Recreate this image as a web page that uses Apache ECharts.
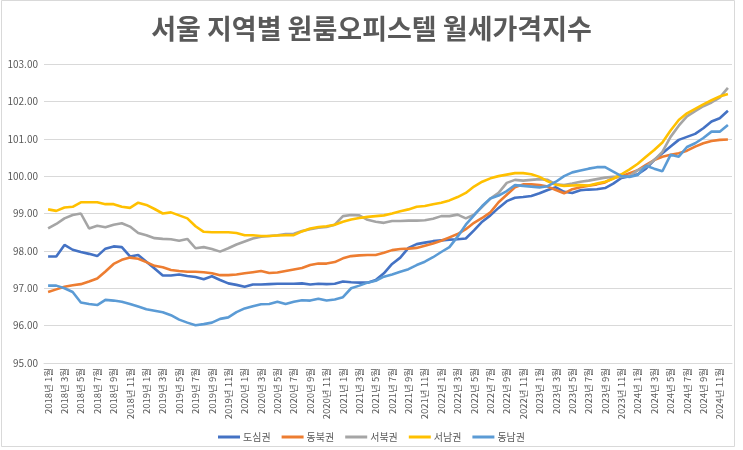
<!DOCTYPE html>
<html>
<head>
<meta charset="utf-8">
<script src="https://cdn.jsdelivr.net/npm/echarts@6/dist/echarts.min.js"></script>
<style>
html,body{margin:0;padding:0;background:#fff;}
#c{width:743px;height:450px;}
</style>
</head>
<body>
<div id="c"></div>
<script>
var titleText = '서울 지역별 원룸오피스텔 월세가격지수';
var years = [2018, 2019, 2020, 2021, 2022, 2023, 2024];
var months = [1,2,3,4,5,6,7,8,9,10,11,12];
var categories = [];
years.forEach(function(y){ months.forEach(function(m){ categories.push(y + '년 ' + m + '월'); }); });

var seriesNames = ['도심권', '동북권', '서북권', '서남권', '동남권'];

var dosim = [97.85,97.85,98.16,98.03,97.97,97.92,97.86,98.06,98.12,98.10,
97.85,97.89,97.71,97.53,97.34,97.34,97.37,97.33,97.30,97.24,
97.32,97.22,97.13,97.09,97.04,97.10,97.10,97.11,97.12,97.12,
97.12,97.13,97.10,97.12,97.11,97.12,97.18,97.16,97.15,97.15,
97.22,97.40,97.65,97.82,98.08,98.18,98.22,98.26,98.28,98.30,
98.31,98.33,98.55,98.78,98.95,99.15,99.33,99.42,99.44,99.47,
99.54,99.63,99.70,99.58,99.55,99.62,99.64,99.65,99.68,99.80,
99.95,100.00,100.05,100.20,100.43,100.61,100.79,100.97,101.05,101.13,
101.28,101.46,101.55,101.75];

var dongbuk = [96.90,96.97,97.04,97.08,97.11,97.18,97.26,97.45,97.65,97.76,
97.82,97.79,97.70,97.60,97.56,97.49,97.46,97.44,97.44,97.43,
97.40,97.35,97.35,97.37,97.40,97.43,97.46,97.41,97.42,97.46,
97.50,97.54,97.62,97.66,97.66,97.70,97.80,97.86,97.88,97.89,
97.89,97.95,98.02,98.05,98.06,98.08,98.14,98.20,98.27,98.36,
98.45,98.58,98.75,98.88,99.03,99.30,99.50,99.70,99.78,99.78,
99.76,99.72,99.63,99.54,99.65,99.70,99.74,99.78,99.83,99.95,
100.00,100.08,100.16,100.30,100.43,100.52,100.57,100.61,100.68,100.79,
100.88,100.94,100.97,100.98];

var seobuk = [98.60,98.72,98.87,98.96,99.00,98.60,98.67,98.63,98.70,98.74,
98.65,98.48,98.42,98.34,98.32,98.31,98.27,98.32,98.07,98.10,
98.05,97.98,98.07,98.17,98.25,98.33,98.38,98.40,98.42,98.45,
98.46,98.53,98.58,98.62,98.64,98.70,98.93,98.96,98.95,98.83,
98.78,98.75,98.80,98.80,98.81,98.81,98.82,98.86,98.93,98.93,
98.97,98.87,98.97,99.18,99.40,99.55,99.82,99.90,99.88,99.90,
99.92,99.90,99.78,99.76,99.80,99.85,99.88,99.92,99.96,99.98,
99.98,100.00,100.16,100.25,100.43,100.65,101.05,101.35,101.60,101.74,
101.87,101.97,102.10,102.36];

var seonam = [99.11,99.07,99.16,99.18,99.30,99.30,99.30,99.25,99.25,99.18,
99.15,99.29,99.23,99.12,99.00,99.03,98.95,98.87,98.66,98.51,
98.50,98.50,98.50,98.48,98.42,98.42,98.40,98.40,98.41,98.42,
98.42,98.52,98.60,98.64,98.66,98.70,98.78,98.84,98.88,98.91,
98.93,98.95,99.00,99.06,99.11,99.18,99.20,99.25,99.29,99.35,
99.44,99.55,99.72,99.85,99.94,100.00,100.04,100.08,100.08,100.05,
99.98,99.86,99.77,99.74,99.75,99.76,99.75,99.80,99.85,99.93,
100.05,100.18,100.33,100.52,100.70,100.90,101.22,101.50,101.68,101.80,
101.92,102.03,102.13,102.20];

var dongnam = [97.07,97.07,97.00,96.90,96.62,96.58,96.55,96.69,96.67,96.64,
96.58,96.51,96.44,96.40,96.36,96.28,96.16,96.08,96.01,96.04,
96.08,96.18,96.22,96.36,96.46,96.52,96.57,96.58,96.64,96.58,
96.64,96.68,96.67,96.72,96.67,96.70,96.76,97.00,97.07,97.15,
97.20,97.31,97.37,97.44,97.51,97.62,97.71,97.83,97.97,98.10,
98.38,98.70,98.95,99.20,99.40,99.48,99.60,99.76,99.74,99.72,
99.70,99.73,99.85,100.00,100.10,100.15,100.20,100.24,100.24,100.12,
100.00,99.98,100.03,100.28,100.20,100.13,100.57,100.52,100.78,100.88,
101.02,101.19,101.19,101.37];

var seriesData = [dosim, dongbuk, seobuk, seonam, dongnam];
var colors = ['#4472C4', '#ED7D31', '#A5A5A5', '#FFC000', '#5B9BD5'];

var chart = echarts.init(document.getElementById('c'), null, {renderer: 'canvas'});
var font = '"Noto Sans CJK KR", "Noto Sans", sans-serif';
chart.setOption({
  animation: false,
  backgroundColor: '#ffffff',
  color: colors,
  title: {
    text: titleText,
    left: 'center',
    top: 10,
    textStyle: {fontFamily: font, fontSize: 27, fontWeight: 'bold', color: '#595959'}
  },
  graphic: [{
    type: 'rect',
    shape: {x: 1.5, y: 0.5, width: 733, height: 446},
    style: {fill: 'none', stroke: '#D9D9D9', lineWidth: 1},
    silent: true
  }],
  legend: {
    top: 427,
    left: 'center',
    icon: 'rect',
    itemWidth: 22,
    itemHeight: 3,
    itemGap: 11,
    data: seriesNames,
    textStyle: {fontFamily: font, fontSize: 10, color: '#595959', padding: [0,0,0,-2]}
  },
  grid: {left: 44, right: 11, top: 64, bottom: 87, containLabel: false},
  xAxis: {
    type: 'category',
    data: categories,
    boundaryGap: true,
    axisLine: {show: true, lineStyle: {color: '#D9D9D9', width: 1}},
    axisTick: {show: false},
    axisLabel: {
      interval: 1,
      rotate: 90,
      margin: 5,
      fontFamily: font,
      fontSize: 9.5,
      color: '#595959'
    },
    splitLine: {show: false}
  },
  yAxis: {
    type: 'value',
    min: 95,
    max: 103,
    interval: 1,
    axisLine: {show: false},
    axisTick: {show: false},
    axisLabel: {
      fontFamily: font,
      fontSize: 10,
      color: '#595959',
      margin: 6,
      formatter: function(v){ return v.toFixed(2); }
    },
    splitLine: {lineStyle: {color: '#D9D9D9', width: 1}}
  },
  series: seriesNames.map(function(name, k){
    return {
      name: name,
      type: 'line',
      data: seriesData[k],
      showSymbol: false,
      symbol: 'none',
      lineStyle: {width: 2.6, color: colors[k]},
      itemStyle: {color: colors[k]}
    };
  })
});
</script>
</body>
</html>
